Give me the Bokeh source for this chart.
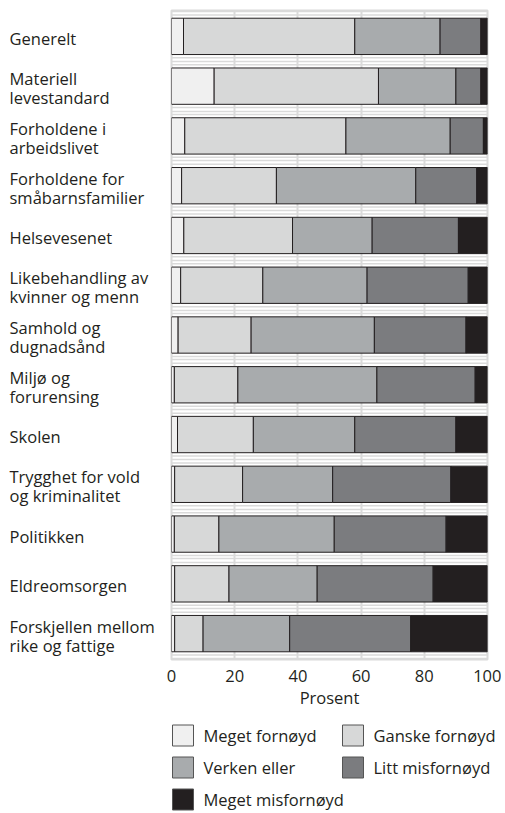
from bokeh.plotting import figure
from bokeh.layouts import row, column
from bokeh.models import Range1d, FixedTicker, ColumnDataSource
from bokeh.core.properties import value
from bokeh.embed import file_html
from bokeh.resources import INLINE

categories = [
    "Generelt",
    "Materiell\nlevestandard",
    "Forholdene i\narbeidslivet",
    "Forholdene for\nsmåbarnsfamilier",
    "Helsevesenet",
    "Likebehandling av\nkvinner og menn",
    "Samhold og\ndugnadsånd",
    "Miljø og\nforurensing",
    "Skolen",
    "Trygghet for vold\nog kriminalitet",
    "Politikken",
    "Eldreomsorgen",
    "Forskjellen mellom\nrike og fattige",
]
series_names = ["Meget fornøyd", "Ganske fornøyd", "Verken eller", "Litt misfornøyd", "Meget misfornøyd"]
meget_fornoyd = [3.8, 13.5, 4.2, 3.2, 3.9, 2.9, 2.1, 0.9, 1.9, 1.0, 0.9, 1.0, 1.0]
ganske_fornoyd = [54.2, 52.0, 51.0, 30.0, 34.4, 26.0, 23.1, 20.1, 24.0, 21.5, 14.1, 17.2, 9.0]
verken_eller = [27.0, 24.5, 33.0, 44.1, 25.2, 33.0, 39.0, 44.0, 32.1, 28.5, 36.5, 27.9, 27.4]
litt_misfornoyd = [12.9, 7.9, 10.5, 19.3, 27.3, 32.0, 29.0, 31.1, 32.0, 37.4, 35.4, 36.7, 38.3]
meget_misfornoyd = [2.1, 2.1, 1.3, 3.4, 9.2, 6.1, 6.8, 3.9, 10.0, 11.6, 13.1, 17.2, 24.3]
x_ticks = [0, 20, 40, 60, 80, 100]
colors = ["#f0f0f0", "#d7d8d8", "#a8abad", "#7b7c7f", "#231f20"]

FONT = "Open Sans"
FS = "16.5px"
TEXT_COLOR = "#231f20"
GRID = "#dadada"

n = len(categories)
ys = list(range(n))
keys = ["s0", "s1", "s2", "s3", "s4"]
source = ColumnDataSource(dict(
    y=ys, label=categories,
    s0=meget_fornoyd, s1=ganske_fornoyd, s2=verken_eller, s3=litt_misfornoyd, s4=meget_misfornoyd,
    lo=[x_ticks[0]] * n, hi=[x_ticks[-1]] * n,
))

y_range = Range1d(start=n - 0.48, end=-0.52)
TOP = 10
LEFT = 8
LABEL_W = 153
GAP = 10
FRAME_W = 316
FRAME_H = 649
BOTTOM = 58

# ---------------- main chart ----------------
p = figure(frame_width=FRAME_W, frame_height=FRAME_H, x_range=Range1d(x_ticks[0], x_ticks[-1]), y_range=y_range,
           output_backend="svg", toolbar_location=None,
           min_border_left=GAP, min_border_right=14, min_border_top=TOP, min_border_bottom=BOTTOM)
p.background_fill_color = "white"
p.outline_line_color = GRID
p.outline_line_width = 2

p.xgrid.ticker = FixedTicker(ticks=x_ticks)
p.xgrid.grid_line_color = GRID
p.xgrid.grid_line_width = 2
p.ygrid.ticker = FixedTicker(ticks=[i + 0.5 for i in range(-1, n)])
p.ygrid.grid_line_color = GRID
p.ygrid.grid_line_width = 1.5

p.hbar(y="y", left="lo", right="hi", height=0.86, source=source, fill_color=None,
       line_color=GRID, line_width=1.5)

renderers = p.hbar_stack(keys, y="y", height=0.73, color=colors, source=source,
                         line_color=TEXT_COLOR, line_width=1)

p.yaxis.visible = False
xa = p.xaxis[0]
xa.ticker = FixedTicker(ticks=x_ticks)
xa.axis_line_color = None
xa.major_tick_line_color = None
xa.minor_tick_line_color = None
xa.major_tick_out = 0
xa.major_tick_in = 0
xa.major_label_text_font = FONT
xa.major_label_text_font_size = FS
xa.major_label_text_color = TEXT_COLOR
xa.major_label_standoff = 10
xa.axis_label = "Prosent"
xa.axis_label_text_font = FONT
xa.axis_label_text_font_size = FS
xa.axis_label_text_font_style = "normal"
xa.axis_label_text_color = TEXT_COLOR
xa.axis_label_standoff = 1

# ---------------- category labels ----------------
lf = figure(frame_width=LABEL_W, frame_height=FRAME_H, x_range=Range1d(0, LABEL_W), y_range=y_range,
            output_backend="svg", toolbar_location=None,
            min_border_left=LEFT, min_border_right=0, min_border_top=TOP, min_border_bottom=BOTTOM)
lf.axis.visible = False
lf.grid.visible = False
lf.outline_line_color = None
lf.text(x=1, y="y", text="label", source=source, text_font=value(FONT), text_font_size=FS,
        text_color=TEXT_COLOR, text_align="left", text_baseline="middle", text_line_height=0.83,
        y_offset=2)

# ---------------- legend ----------------
LG_W = FRAME_W + 14
LG_H = 94
col_step = 170
row_step = 32
leg_src = ColumnDataSource(dict(
    x=[(i % 2) * col_step + 11.5 for i in range(len(series_names))],
    tx=[(i % 2) * col_step + 32 for i in range(len(series_names))],
    y=[(i // 2) * row_step + 18 for i in range(len(series_names))],
    name=series_names,
    color=colors,
))
lg = figure(frame_width=LG_W, frame_height=LG_H, x_range=Range1d(0, LG_W), y_range=Range1d(LG_H, 0),
            output_backend="svg", toolbar_location=None,
            min_border_left=LEFT + LABEL_W + GAP, min_border_right=0, min_border_top=0, min_border_bottom=0)
lg.axis.visible = False
lg.grid.visible = False
lg.outline_line_color = None
lg.rect(x="x", y="y", width=21, height=21, fill_color="color", line_color="#555555", line_width=1,
        source=leg_src)
lg.text(x="tx", y="y", text="name", source=leg_src, text_font=value(FONT), text_font_size=FS,
        text_color=TEXT_COLOR, text_align="left", text_baseline="middle")

layout = column(row(lf, p), lg)
open("out.html", "w").write(file_html(layout, INLINE))
